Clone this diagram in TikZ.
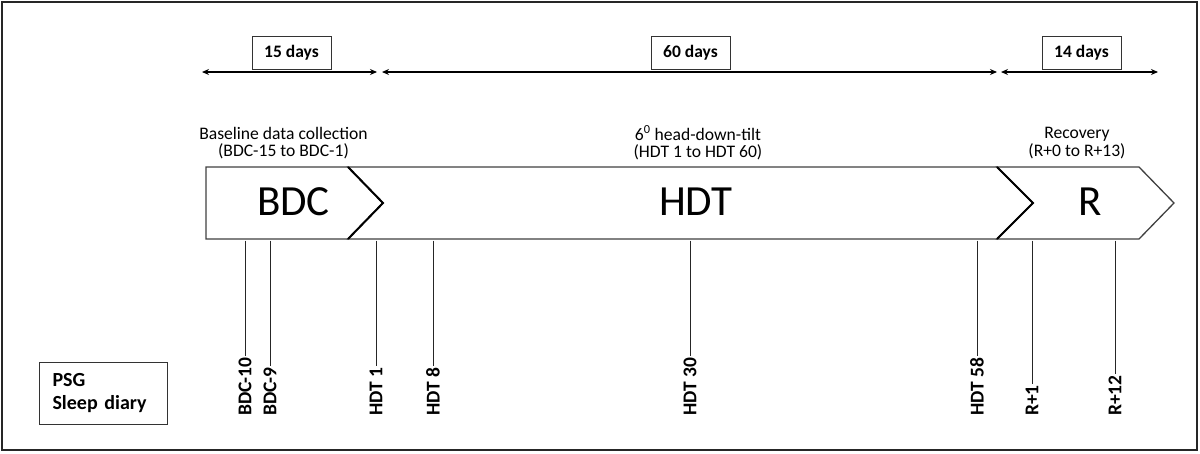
\documentclass[tikz,border=0pt]{standalone}
\usepackage{fontspec}
\setmainfont{Carlito}
\usetikzlibrary{arrows.meta}
\begin{document}
\begin{tikzpicture}[x=1pt,y=-1pt,
  frame/.style={draw=black!85, line width=2.4pt},
  span/.style={line width=1.3pt, {Stealth[length=7pt,width=6pt]}-{Stealth[length=7pt,width=6pt]}},
  daysbox/.style={draw=black!80, line width=1pt, minimum width=79pt, minimum height=33pt, inner sep=0pt, font=\fontsize{17.5}{20}\selectfont\bfseries},
  phasecap/.style={align=center, font=\fontsize{17.6}{17.5}\selectfont, inner sep=0pt},
  phasebox/.style={draw=black!75, line width=1.3pt, fill=white},
  chev/.style={line width=2pt, draw=black},
  big/.style={font=\fontsize{43}{43}\selectfont, inner sep=0pt},
  ticklab/.style={rotate=90, anchor=west, inner sep=1pt, font=\fontsize{19.5}{20}\selectfont\bfseries},
  tick/.style={line width=1pt, draw=black!85},
  legend/.style={draw=black!80, line width=1pt, anchor=north west, minimum width=128pt, minimum height=62pt, text width=102pt, inner xsep=13pt, align=left, font=\fontsize{20}{23}\selectfont\bfseries},
  ]
\useasboundingbox (0,0) rectangle (1200,453);
\draw[frame] (2,2) rectangle (1197,450);

% duration boxes and arrows
\node[daysbox] (d15) at (291.5,52.5) {15 days};
\node[daysbox] (d60) at (690.5,52.5) {60 days};
\node[daysbox] (d14) at (1081.5,52.5) {14 days};
\coordinate (a0) at (202,72);
\coordinate (a1) at (377,72);
\coordinate (a2) at (382,72);
\coordinate (a3) at (997,72);
\coordinate (a4) at (1001,72);
\coordinate (a5) at (1158,72);
\draw[span] (a0) -- (a1);
\draw[span] (a2) -- (a3);
\draw[span] (a4) -- (a5);

% phase captions
\node[phasecap] (cbdc) at (283.5,143) {Baseline data collection\\(BDC-15 to BDC-1)};
\node[phasecap] (chdt) at (698,143) {6\textsuperscript{0} head-down-tilt\\(HDT 1 to HDT 60)};
\node[phasecap] (cr) at (1077,143) {Recovery\\(R+0 to R+13)};

% phase shapes
\draw[phasebox] (206,167) -- (348,167) -- (383,203) -- (348,239) -- (206,239) -- cycle;
\draw[phasebox] (348,167) -- (997,167) -- (1033,203) -- (997,239) -- (348,239) -- (383,203) -- cycle;
\draw[phasebox] (997,167) -- (1139,167) -- (1174,203) -- (1139,239) -- (997,239) -- (1033,203) -- cycle;
\draw[chev] (348,167) -- (383,203) -- (348,239);
\draw[chev] (997,167) -- (1033,203) -- (997,239);
\node[big] (bdc) at (293.5,201.5) {BDC};
\node[big] (hdt) at (696,201.5) {HDT};
\node[big] (r) at (1090,201.5) {R};

% measurement days
\foreach \x/\n/\t in {245/l1/BDC-10, 270/l2/BDC-9, 376/l3/HDT 1, 433/l4/HDT 8, 690/l5/HDT 30, 977/l6/HDT 58, 1032/l7/R+1, 1115/l8/R+12}{
  \coordinate (t\n) at (\x,240.5);
  \node[ticklab] (\n) at (\x,417) {\t};
  \draw[tick] (t\n) -- (\n.east);
}

% legend
\node[legend] (leg) at (39,362) {PSG\\Sleep diary};
\end{tikzpicture}
\end{document}
